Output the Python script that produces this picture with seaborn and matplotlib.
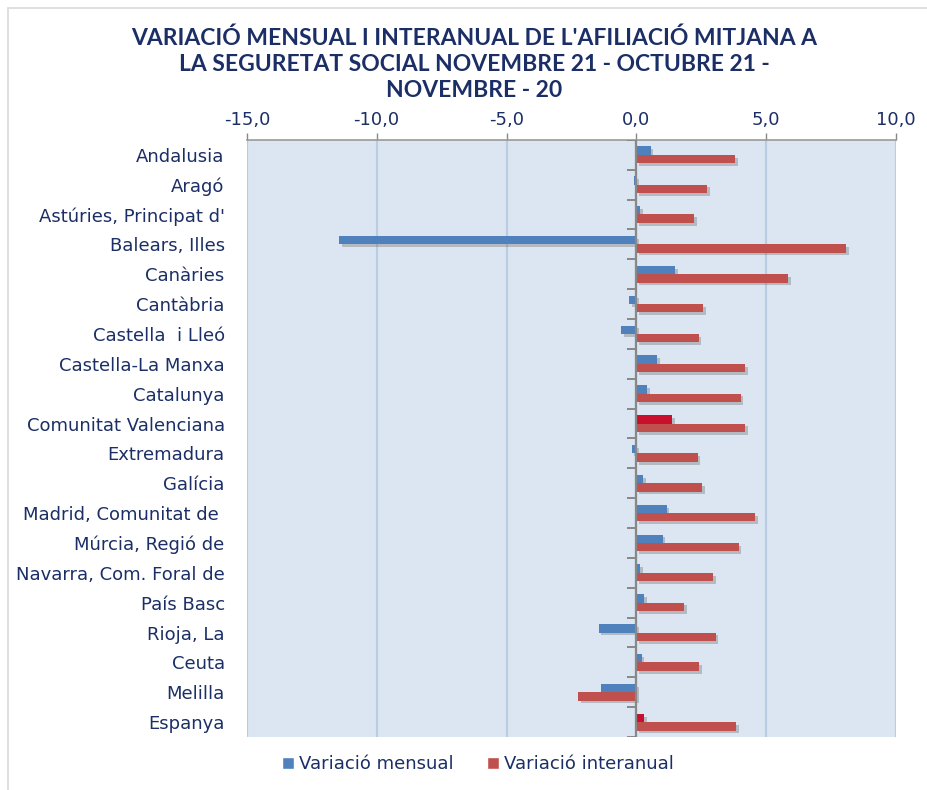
import matplotlib
matplotlib.use("Agg")
import matplotlib.pyplot as plt
import matplotlib.patheffects as pe
from matplotlib.ticker import FuncFormatter
from matplotlib.patches import Rectangle, Patch
import seaborn as sns
import pandas as pd

# data
comunitats = ['Andalusia', 'Aragó', "Astúries, Principat d'", 'Balears, Illes', 'Canàries',
              'Cantàbria', 'Castella  i Lleó', 'Castella-La Manxa', 'Catalunya',
              'Comunitat Valenciana', 'Extremadura', 'Galícia', 'Madrid, Comunitat de ',
              'Múrcia, Regió de', 'Navarra, Com. Foral de', 'País Basc', 'Rioja, La',
              'Ceuta', 'Melilla', 'Espanya']
var_mensual = [0.55, -0.08, 0.14, -11.45, 1.48, -0.28, -0.58, 0.79, 0.42, 1.39,
               -0.18, 0.27, 1.17, 1.01, 0.14, 0.31, -1.45, 0.20, -1.36, 0.31]
var_interanual = [3.81, 2.72, 2.22, 8.07, 5.85, 2.58, 2.40, 4.18, 4.02, 4.20,
                  2.36, 2.54, 4.57, 3.94, 2.95, 1.83, 3.05, 2.41, -2.23, 3.84]
destacats = ['Comunitat Valenciana', 'Espanya']
series = ['Variació mensual', 'Variació interanual']
x_ticks = [-15, -10, -5, 0, 5, 10]

title = ("VARIACIÓ MENSUAL I INTERANUAL DE L'AFILIACIÓ MITJANA A\n"
         "LA SEGURETAT SOCIAL NOVEMBRE 21 - OCTUBRE 21 -\nNOVEMBRE - 20")

BLUE = '#4f81bd'
RED = '#c0504d'
CRIMSON = '#c8102e'
NAVY = '#1b2f66'

df = pd.DataFrame({
    'comunitat': comunitats * 2,
    'valor': var_mensual + var_interanual,
    'serie': [series[0]] * len(comunitats) + [series[1]] * len(comunitats),
})

sns.set_style('white')
plt.rcParams['font.family'] = ['DejaVu Sans']

fig = plt.figure(figsize=(9.28, 7.9), dpi=100)
ax = fig.add_axes([0.266, 0.067, 0.6995, 0.756])
ax.set_facecolor('#dce6f2')

sns.barplot(data=df, x='valor', y='comunitat', hue='serie', order=comunitats,
            hue_order=series, palette=[BLUE, RED], orient='h', width=0.56,
            saturation=1, errorbar=None, legend=False, ax=ax, zorder=3)

shadow = [pe.SimplePatchShadow(offset=(2, -2), shadow_rgbFace='#555555', alpha=0.3), pe.Normal()]
for cont in ax.containers:
    for bar in cont:
        bar.set_path_effects(shadow)
        bar.set_edgecolor('none')
for name, bar in zip(comunitats, ax.containers[0]):
    if name in destacats:
        bar.set_facecolor(CRIMSON)

ax.set_xlim(-15, 10)
ax.set_ylim(len(comunitats) - 0.5, -0.5)
ax.xaxis.tick_top()
ax.set_xticks(x_ticks)
ax.xaxis.set_major_formatter(FuncFormatter(lambda v, p: f'{v:.1f}'.replace('.', ',').replace('−', '-')))
ax.tick_params(axis='x', colors='#888888', labelcolor=NAVY, labelsize=13, length=5, width=1, pad=3)
ax.tick_params(axis='y', length=0, labelcolor=NAVY, labelsize=13, pad=16)
ax.grid(axis='x', color='#b8cce4', linewidth=1.6, zorder=0)
ax.set_axisbelow(True)
ax.set_xlabel('')
ax.set_ylabel('')
for s in ['left', 'right', 'bottom']:
    ax.spines[s].set_visible(False)
ax.spines['top'].set_color('#999999')
ax.spines['top'].set_linewidth(1.2)

# category axis at zero with boundary ticks
ax.axvline(0, color='#888888', linewidth=1.6, zorder=4)
ax.hlines([i + 0.5 for i in range(-1, len(comunitats))], -0.35, 0, color='#888888',
          linewidth=1.4, zorder=4)

fig.text(0.511, 0.965, title, ha='center', va='top', fontsize=16.5, fontweight='bold',
         color=NAVY, linespacing=1.3, family=['Lato', 'DejaVu Sans'])

handles = [Patch(facecolor=BLUE), Patch(facecolor=RED)]
fig.legend(handles, series, loc='center', bbox_to_anchor=(0.515, 0.033), ncol=2, frameon=False,
           fontsize=13, labelcolor=NAVY, handlelength=0.65, handleheight=0.65,
           handletextpad=0.25, columnspacing=1.9)

fig.add_artist(Rectangle((0.009, -0.02), 1.0, 1.01, transform=fig.transFigure,
                         fill=False, edgecolor='#d9d9d9', linewidth=1.2))

fig.savefig('out.png', dpi=100)
